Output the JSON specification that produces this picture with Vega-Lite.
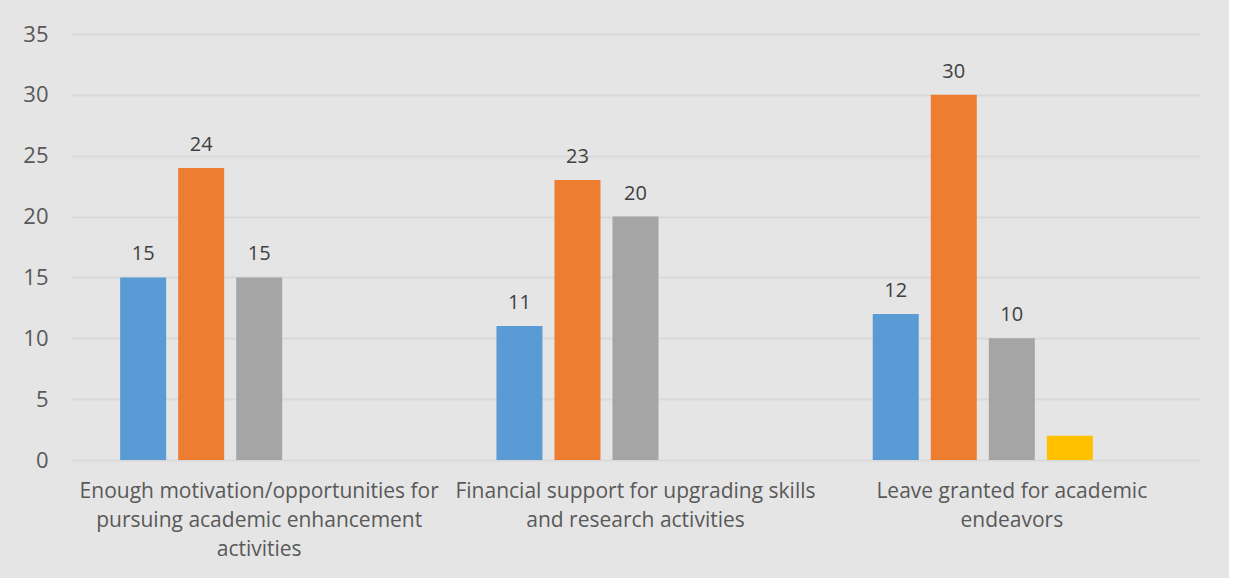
{
  "$schema": "https://vega.github.io/schema/vega-lite/v6.json",
  "width": 1129,
  "height": 426,
  "autosize": {"type": "none"},
  "padding": {"left": 71, "top": 34, "right": 29, "bottom": 118},
  "background": "#e5e5e5",
  "config": {
    "font": "Open Sans",
    "view": {"stroke": null},
    "axis": {"labelFont": "Open Sans", "labelColor": "#595959"}
  },
  "data": {
    "values": [
      {"category": "Enough motivation/opportunities for|pursuing academic enhancement|activities", "series": "A", "value": 15},
      {"category": "Enough motivation/opportunities for|pursuing academic enhancement|activities", "series": "B", "value": 24},
      {"category": "Enough motivation/opportunities for|pursuing academic enhancement|activities", "series": "C", "value": 15},
      {"category": "Enough motivation/opportunities for|pursuing academic enhancement|activities", "series": "D", "value": 0},
      {"category": "Financial support for upgrading skills|and research activities", "series": "A", "value": 11},
      {"category": "Financial support for upgrading skills|and research activities", "series": "B", "value": 23},
      {"category": "Financial support for upgrading skills|and research activities", "series": "C", "value": 20},
      {"category": "Financial support for upgrading skills|and research activities", "series": "D", "value": 0},
      {"category": "Leave granted for academic|endeavors", "series": "A", "value": 12},
      {"category": "Leave granted for academic|endeavors", "series": "B", "value": 30},
      {"category": "Leave granted for academic|endeavors", "series": "C", "value": 10},
      {"category": "Leave granted for academic|endeavors", "series": "D", "value": 2}
    ]
  },
  "encoding": {
    "x": {
      "field": "category",
      "type": "nominal",
      "sort": null,
      "scale": {"paddingInner": 0.229, "paddingOuter": 0.1146},
      "axis": {
        "title": null,
        "labelAngle": 0,
        "domain": false,
        "ticks": false,
        "labelExpr": "split(datum.label, '|')",
        "labelFontSize": 21,
        "labelLineHeight": 29,
        "labelPadding": 20,
        "labelBaseline": "top",
        "labelLimit": 420
      }
    },
    "xOffset": {
      "field": "series",
      "type": "nominal",
      "scale": {"domain": ["A", "B", "C", "D", "E"], "paddingInner": 0.207, "paddingOuter": 0.1035}
    },
    "y": {
      "field": "value",
      "type": "quantitative",
      "scale": {"domain": [0, 35], "nice": false},
      "axis": {
        "title": null,
        "values": [0, 5, 10, 15, 20, 25, 30, 35],
        "domain": false,
        "ticks": false,
        "labelFontSize": 22,
        "labelPadding": 23,
        "gridColor": "#d9d9d9",
        "gridWidth": 2
      }
    }
  },
  "layer": [
    {
      "mark": {"type": "bar"},
      "encoding": {
        "color": {
          "field": "series",
          "type": "nominal",
          "scale": {"domain": ["A", "B", "C", "D", "E"], "range": ["#5b9bd5", "#ed7d31", "#a5a5a5", "#ffc000", "#4472c4"]},
          "legend": null
        }
      }
    },
    {
      "transform": [{"filter": "datum.series != 'D' && datum.value > 0"}],
      "mark": {"type": "text", "baseline": "bottom", "dy": -13, "fontSize": 20, "color": "#404040"},
      "encoding": {"text": {"field": "value", "type": "quantitative"}}
    }
  ]
}
